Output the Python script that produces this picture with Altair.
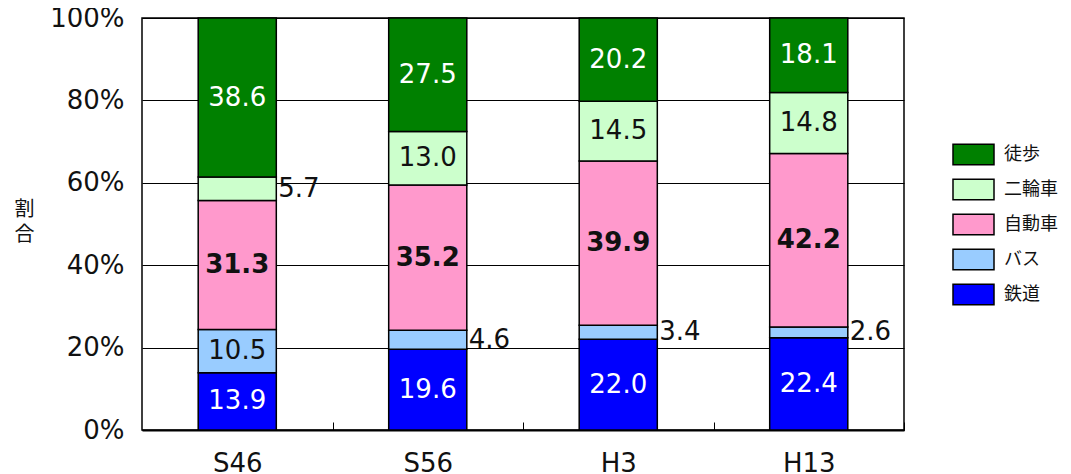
import altair as alt
import pandas as pd

periods = ["S46", "S56", "H3", "H13"]
modes = ["鉄道", "バス", "自動車", "二輪車", "徒歩"]
legend_order = ["徒歩", "二輪車", "自動車", "バス", "鉄道"]
colors = ["#008000", "#CCFFCC", "#FF99CC", "#99CCFF", "#0000FF"]

tetsudo = [13.9, 19.6, 22.0, 22.4]
bus = [10.5, 4.6, 3.4, 2.6]
jidosha = [31.3, 35.2, 39.9, 42.2]
nirin = [5.7, 13.0, 14.5, 14.8]
toho = [38.6, 27.5, 20.2, 18.1]

series = {"鉄道": tetsudo, "バス": bus, "自動車": jidosha, "二輪車": nirin, "徒歩": toho}
rows = []
for i, p in enumerate(periods):
    for k, m in enumerate(modes):
        v = series[m][i]
        rows.append({"period": p, "mode": m, "idx": k, "value": v, "label": f"{v:.1f}"})
df = pd.DataFrame(rows)

NUM = "DejaVu Sans"
JP = "Noto Sans CJK JP"
FS = 26
W, H = 762, 412
HALF_STEP = W / len(periods) / 2

base = alt.Chart(df).transform_stack(
    stack="value", groupby=["period"], as_=["y0", "y1"], offset="normalize",
    sort=[alt.SortField("idx", order="ascending")]
).transform_calculate(mid="(datum.y0 + datum.y1) / 2")

xscale = alt.Scale(paddingInner=0.59, paddingOuter=0.295)
yscale = alt.Scale(domain=[0, 1])

# top-oriented axis moved down onto the bottom edge so that its ticks point up into the plot
xaxis = alt.Axis(orient="top", offset=-H, labelFontSize=26, labelFont=NUM,
                 labelColor="#111", labelAngle=0, labelBaseline="bottom",
                 labelPadding=-54, ticks=True, tickSize=8,
                 tickOffset=HALF_STEP, labelOffset=-HALF_STEP,
                 tickColor="black", tickWidth=1, tickOpacity=1,
                 domainColor="black", domainWidth=2, grid=False)
xenc = alt.X("period:N", sort=periods, title=None, scale=xscale, axis=xaxis)

yaxis = alt.Axis(values=[0, 0.2, 0.4, 0.6, 0.8, 1.0], format=".0%",
                 labelFontSize=26, labelFont=NUM, labelColor="#111",
                 ticks=False, domain=False, labelPadding=18,
                 grid=True, gridColor="black", gridWidth=1, gridOpacity=1,
                 titleAngle=0, titleFontSize=20, titleFont=JP,
                 titleFontWeight="normal", titleX=-118, titleY=191,
                 titleAlign="center", titleBaseline="middle",
                 titleLineHeight=25, titleColor="#111")
YT = ["割", "合"]

bars = base.mark_bar(stroke="black", strokeWidth=1.5).encode(
    x=xenc,
    y=alt.Y("y0:Q", scale=yscale, title=YT, axis=yaxis),
    y2="y1:Q",
    color=alt.Color("mode:N", scale=alt.Scale(domain=legend_order, range=colors),
                    legend=alt.Legend(title=None, orient="none", legendX=810, legendY=115,
                                      symbolType="M-1,-0.5L1,-0.5L1,0.5L-1,0.5Z",
                                      symbolSize=1681, symbolStrokeColor="black",
                                      symbolStrokeWidth=1.5, symbolOpacity=1,
                                      labelFontSize=18, labelFont=JP, labelColor="#111",
                                      labelOffset=9, rowPadding=-8)),
)

inside = base.transform_filter("datum.value >= 8")

def txt(src, **kw):
    return src.mark_text(fontSize=FS, font=NUM, baseline="middle", **kw).encode(
        x=xenc, y=alt.Y("mid:Q", scale=yscale, title=YT, axis=yaxis), text="label:N")

white_txt = txt(inside.transform_filter("datum.mode == '鉄道' || datum.mode == '徒歩'"), color="white")
dark_txt = txt(inside.transform_filter("datum.mode == 'バス' || datum.mode == '二輪車'"), color="#111")
bold_txt = txt(inside.transform_filter("datum.mode == '自動車'"), color="#111", fontWeight="bold")
outside_txt = txt(base.transform_filter("datum.value < 8"), color="#111", align="left", dx=41)

chart = alt.layer(bars, white_txt, dark_txt, bold_txt, outside_txt).properties(
    width=W, height=H,
    autosize=alt.AutoSizeParams(type="none"),
    padding={"left": 134, "top": 10, "right": 159, "bottom": 44},
).configure_view(stroke="black", strokeWidth=1.5)

chart.save("out.html", embed_options={"renderer": "svg", "actions": False})
